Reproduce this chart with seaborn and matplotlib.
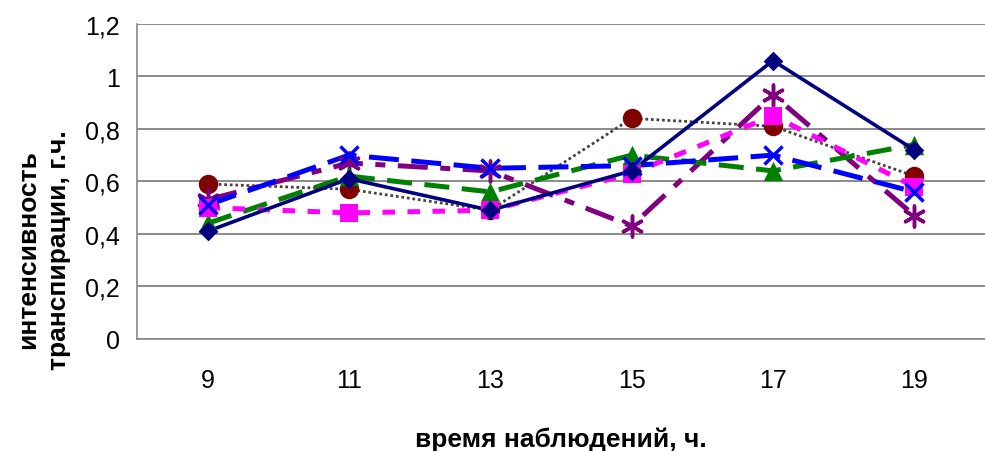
import numpy as np
import pandas as pd
import matplotlib
matplotlib.use("Agg")
import matplotlib.pyplot as plt
import seaborn as sns
from matplotlib.ticker import FixedLocator, FuncFormatter

hours = ["9", "11", "13", "15", "17", "19"]

s_navy = [0.41, 0.61, 0.49, 0.64, 1.06, 0.72]
s_blue = [0.51, 0.70, 0.65, 0.66, 0.70, 0.56]
s_magenta = [0.50, 0.48, 0.49, 0.63, 0.85, 0.58]
s_green = [0.44, 0.62, 0.56, 0.70, 0.64, 0.74]
s_purple = [0.53, 0.67, 0.64, 0.43, 0.93, 0.47]
s_maroon = [0.59, 0.57, 0.49, 0.84, 0.81, 0.62]

sns.set_theme(style="white")
plt.rcParams['font.family'] = ['Liberation Sans', 'DejaVu Sans']
plt.rcParams['text.color'] = 'black'
plt.rcParams['xtick.color'] = 'black'
plt.rcParams['ytick.color'] = 'black'
plt.rcParams['axes.labelcolor'] = 'black'

fig = plt.figure(figsize=(9.85, 4.52), dpi=100)
ax = fig.add_axes([0.139, 0.248, 0.861, 0.697])

x = np.arange(len(hours))

# color, line width, dash pattern, marker, marker size, line colour override
styles = [
    (s_maroon, "#800000", 2.0, (0, (1, 1)), "o", 14, "#444444"),
    (s_purple, "#800080", 3.6, (0, (6, 2.5, 2, 2.5)), (6, 2, 0), 15, None),
    (s_green, "#008000", 3.6, (0, (5, 2.5)), "^", 14, None),
    (s_magenta, "#FF00FF", 3.6, (0, (2.5, 2.5)), "s", 13, None),
    (s_blue, "#0000FF", 3.6, (0, (6, 2.5)), "x", 13, None),
    (s_navy, "#000080", 2.6, "-", "D", 10, None),
]

for vals, col, lw, ls, mk, ms, linecol in styles:
    df = pd.DataFrame({"x": x, "y": vals})
    sns.lineplot(data=df, x="x", y="y", ax=ax, color=linecol or col, lw=lw,
                 linestyle=ls, marker=None, zorder=2)
    thin = mk == "x" or isinstance(mk, tuple)
    sns.scatterplot(data=df, x="x", y="y", ax=ax, color=col, marker=mk,
                    s=ms ** 2, edgecolor=col, linewidth=2.5 if thin else 0,
                    zorder=3, legend=False)


def fmt(v, p):
    if abs(v - round(v)) < 1e-9:
        return str(int(round(v)))
    return f"{v:.1f}".replace(".", ",")


ax.set_xlim(-0.5, 5.5)
ax.set_ylim(0, 1.2)
ax.set_yticks(np.arange(0, 1.21, 0.2))
ax.yaxis.set_major_formatter(FuncFormatter(fmt))
ax.set_xticks(x)
ax.set_xticklabels(hours)
ax.xaxis.set_minor_locator(FixedLocator(np.arange(-0.5, 5.6, 1.0)))
ax.tick_params(axis="x", which="major", length=0, labelsize=18, pad=21)
ax.tick_params(axis="x", which="minor", length=5, color="#888888", width=1, direction="out")
ax.tick_params(axis="y", length=7, color="#888888", width=1, direction="out", labelsize=18, pad=5)

ax.grid(axis="y", color="#777777", lw=1.2)
ax.set_axisbelow(True)
for sp in ["top", "right"]:
    ax.spines[sp].set_visible(False)
for sp in ["left", "bottom"]:
    ax.spines[sp].set_color("#888888")
    ax.spines[sp].set_linewidth(1.2)

ax.set_xlabel("время наблюдений, ч.", fontsize=19, fontweight="bold", va="center")
ax.xaxis.set_label_coords(0.5, -0.317)
ax.set_ylabel("интенсивность\nтранспирации, г.ч.", fontsize=19, fontweight="bold",
              linespacing=1.35, va="center")
ax.yaxis.set_label_coords(-0.11, 0.286)

fig.savefig("out.png", dpi=100)
